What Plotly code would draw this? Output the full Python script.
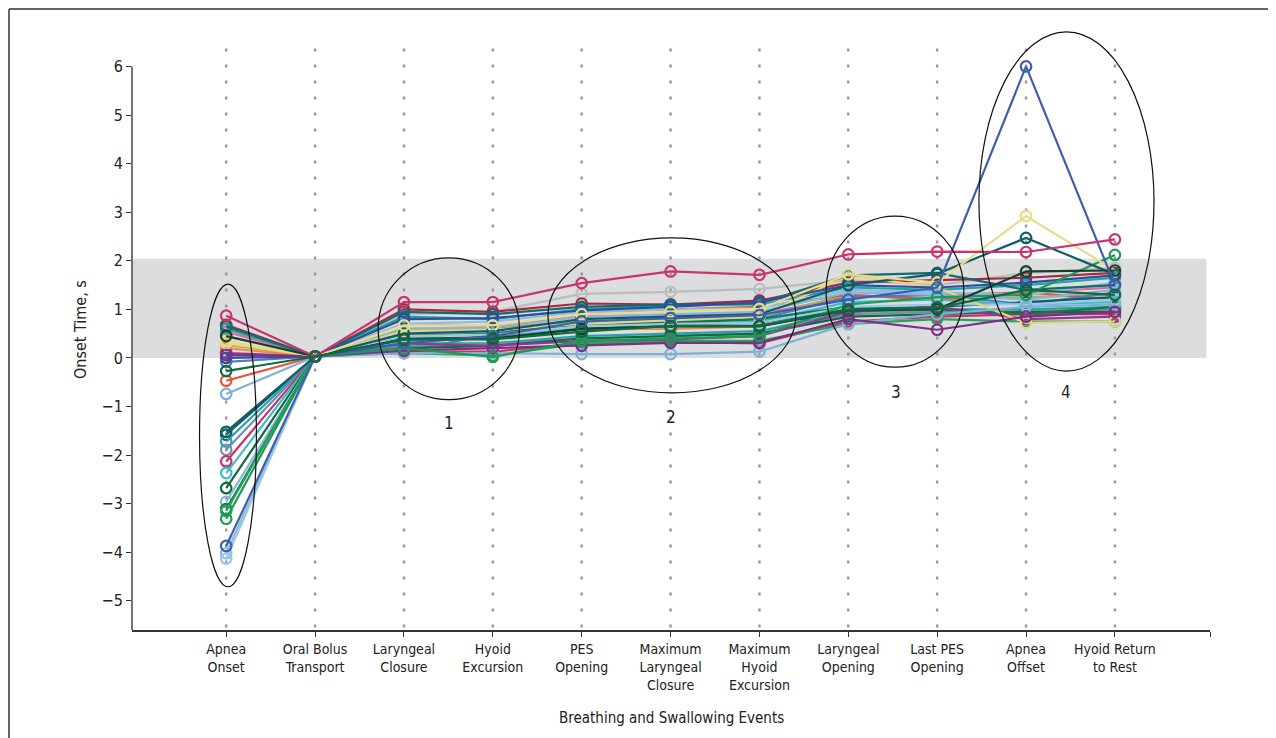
import plotly.graph_objects as go

events = ["Apnea<br>Onset", "Oral Bolus<br>Transport", "Laryngeal<br>Closure", "Hyoid<br>Excursion",
          "PES<br>Opening", "Maximum<br>Laryngeal<br>Closure", "Maximum<br>Hyoid<br>Excursion",
          "Laryngeal<br>Opening", "Last PES<br>Opening", "Apnea<br>Offset", "Hyoid Return<br>to Rest"]

# onset times (s) per participant across the 11 events
s01 = [0.87, 0.03, 1.15, 1.15, 1.54, 1.78, 1.71, 2.13, 2.19, 2.18, 2.44]
s02 = [0.45, 0.03, 0.90, 0.95, 1.32, 1.36, 1.42, 1.60, 1.50, 1.75, 1.85]
s03 = [-3.87, 0.03, 0.30, 0.45, 0.75, 0.82, 0.88, 1.20, 1.45, 6.00, 1.50]
s04 = [0.35, 0.03, 0.67, 0.67, 0.90, 0.95, 1.01, 1.72, 1.55, 2.92, 1.80]
s05 = [-1.52, 0.03, 0.50, 0.55, 0.80, 0.85, 0.90, 1.50, 1.73, 2.47, 1.72]
s06 = [-3.31, 0.03, 0.20, 0.02, 0.35, 0.40, 0.45, 1.10, 1.25, 1.30, 2.12]
s07 = [-0.27, 0.03, 0.38, 0.38, 0.54, 0.66, 0.66, 0.99, 1.03, 1.40, 1.30]
s08 = [0.06, 0.03, 0.15, 0.20, 0.25, 0.31, 0.31, 0.80, 0.58, 0.85, 0.95]
s09 = [-0.74, 0.03, 0.10, 0.10, 0.08, 0.08, 0.13, 0.70, 0.90, 1.05, 1.10]
s10 = [-0.47, 0.03, 0.55, 0.60, 0.90, 1.00, 1.05, 1.30, 1.20, 1.35, 1.20]
s11 = [0.60, 0.03, 0.85, 0.80, 1.00, 1.08, 1.10, 1.45, 1.40, 1.50, 1.65]
s12 = [0.68, 0.03, 1.00, 0.95, 1.12, 1.10, 1.18, 1.55, 1.60, 1.65, 1.75]
s13 = [-0.08, 0.03, 0.12, 0.50, 0.70, 0.75, 0.80, 1.25, 1.30, 1.10, 1.35]
s14 = [-1.58, 0.03, 0.40, 0.42, 0.60, 0.70, 0.72, 1.00, 1.05, 1.15, 1.25]
s15 = [-1.72, 0.03, 0.30, 0.30, 0.45, 0.50, 0.55, 0.95, 1.00, 1.00, 1.05]
s16 = [-1.89, 0.03, 0.25, 0.28, 0.40, 0.45, 0.50, 0.90, 0.95, 0.95, 1.00]
s17 = [-2.13, 0.03, 0.13, 0.13, 0.30, 0.33, 0.30, 0.75, 0.85, 0.90, 0.90]
s18 = [-2.37, 0.03, 0.35, 0.40, 0.65, 0.70, 0.75, 1.15, 1.20, 1.10, 1.15]
s19 = [-2.68, 0.03, 0.20, 0.25, 0.40, 0.45, 0.50, 0.85, 0.90, 0.95, 0.95]
s20 = [-2.96, 0.03, 0.60, 0.62, 0.85, 0.90, 0.95, 1.35, 1.30, 1.20, 1.40]
s21 = [-3.11, 0.03, 0.45, 0.50, 0.70, 0.72, 0.80, 1.05, 1.00, 0.90, 1.05]
s22 = [-3.15, 0.03, 0.10, 0.05, 0.30, 0.35, 0.35, 0.70, 0.80, 0.75, 0.75]
s23 = [-4.02, 0.03, 0.70, 0.75, 0.95, 1.00, 1.02, 1.40, 1.35, 1.30, 1.55]
s24 = [-4.13, 0.03, 0.45, 0.48, 0.65, 0.70, 0.72, 1.05, 1.10, 1.10, 1.20]
s25 = [0.54, 0.03, 0.70, 0.65, 0.85, 0.88, 0.90, 1.25, 1.30, 1.35, 1.45]
s26 = [0.27, 0.03, 0.60, 0.62, 0.75, 0.80, 0.85, 1.30, 1.20, 1.25, 1.30]
s27 = [0.20, 0.03, 0.50, 0.45, 0.60, 0.60, 0.65, 1.00, 0.95, 1.00, 1.00]
s28 = [0.10, 0.03, 0.30, 0.25, 0.35, 0.38, 0.45, 0.95, 1.05, 0.80, 0.85]
s29 = [0.30, 0.03, 0.55, 0.58, 0.70, 0.78, 0.85, 1.70, 1.45, 0.72, 0.75]
s30 = [0.45, 0.03, 0.38, 0.40, 0.60, 0.65, 0.65, 0.98, 1.00, 1.78, 1.80]
s31 = [0.65, 0.03, 0.95, 0.90, 1.05, 1.10, 1.12, 1.70, 1.75, 1.40, 1.50]
s32 = [0.00, 0.03, 0.80, 0.82, 0.98, 1.05, 1.15, 1.50, 1.45, 1.55, 1.70]

series = [s02, s12, s25, s26, s27, s10, s11, s13, s14, s15, s16, s17, s18, s19, s20, s21,
          s22, s23, s24, s28, s29, s31, s32, s09, s08, s06, s05, s04, s30, s03, s01, s07]
colors = ["#bdbdbd", "#a8283f", "#e06a9c", "#a9ad55", "#ef8a4a", "#e4573a", "#22a3a3", "#4f7cc2",
          "#0f5f68", "#2aa0a8", "#6f8fae", "#c8336c", "#40bcc8", "#0e6b3c", "#86b6dc", "#127a45",
          "#27a35a", "#8cbde0", "#9cc6e6", "#8e3b8f", "#e4d67c", "#136a70", "#2f4f9e", "#7fb0d8",
          "#7d2f85", "#1f9a55", "#0f5e66", "#e8dc8a", "#17402c", "#3d5fae", "#c8356e", "#0d6b3c"]

FONT = "Liberation Sans Narrow, DejaVu Sans Condensed, Arial Narrow, sans-serif"
xs = list(range(len(events)))
XR = [-1.06, 11.07]
YR = [-5.6, 6.75]

fig = go.Figure()
for vals, c in zip(series, colors):
    fig.add_trace(go.Scatter(x=xs, y=vals, mode="lines+markers",
                             line=dict(color=c, width=2.2),
                             marker=dict(symbol="circle-open", size=10.5, color=c,
                                         line=dict(width=2.2, color=c)),
                             showlegend=False, hoverinfo="skip"))

shapes = []
# normal range band
shapes.append(dict(type="rect", xref="x", yref="y", x0=XR[0], x1=11.03, y0=0, y1=2.04,
                   fillcolor="#dcdddf", line=dict(width=0), layer="below"))
# dotted event guides
for x in xs:
    shapes.append(dict(type="line", xref="x", yref="y", x0=x, x1=x, y0=-5.55, y1=6.45,
                       line=dict(color="#9a9a9a", width=2.5, dash="3px,13px"), layer="below"))
# y-axis line
shapes.append(dict(type="line", xref="paper", yref="y", x0=0, x1=0, y0=YR[0], y1=6,
                   line=dict(color="#444444", width=1.5)))
# ellipses
for (x0, x1, y0, y1) in [(-0.30, 0.34, -4.71, 1.52), (1.71, 3.30, -0.86, 2.06),
                         (3.62, 6.41, -0.72, 2.47), (6.75, 8.30, -0.19, 2.92),
                         (8.47, 10.44, -0.27, 6.71)]:
    shapes.append(dict(type="circle", xref="x", yref="y", x0=x0, x1=x1, y0=y0, y1=y1,
                       line=dict(color="#111111", width=1.2)))

# page body has an 8px default margin; compensate
OFF = 8
L, R, T, B = 132 - OFF, 66, 30 - OFF, 108
W, H = 1276 - OFF, 738 - OFF
pw, ph = W - L - R, H - T - B
fx = (9 - OFF - L) / pw
fy = (H - B - (9 - OFF)) / ph
shapes.append(dict(type="line", xref="paper", yref="paper", x0=fx, x1=fx, y0=fy, y1=-B / ph - 0.02,
                   line=dict(color="#333333", width=1.5)))
shapes.append(dict(type="line", xref="paper", yref="paper", x0=fx, x1=(W - L) / pw + 0.02, y0=fy, y1=fy,
                   line=dict(color="#333333", width=1.5)))

annotations = [
    dict(x=2.51, y=-1.34, xref="x", yref="y", text="1", showarrow=False, font=dict(size=17, color="#222")),
    dict(x=5.0, y=-1.21, xref="x", yref="y", text="2", showarrow=False, font=dict(size=17, color="#222")),
    dict(x=7.54, y=-0.70, xref="x", yref="y", text="3", showarrow=False, font=dict(size=17, color="#222")),
    dict(x=9.45, y=-0.70, xref="x", yref="y", text="4", showarrow=False, font=dict(size=17, color="#222")),
    dict(x=(80 - 132) / pw, y=0.5, xref="paper", yref="paper", text="Onset Time, s", textangle=-90,
         xanchor="center", yanchor="middle", showarrow=False, font=dict(size=16, color="#222")),
    dict(x=0.5, y=-(718 - 630) / ph, xref="paper", yref="paper", text="Breathing and Swallowing Events",
         xanchor="center", yanchor="middle", showarrow=False, font=dict(size=15, color="#222")),
]

fig.update_layout(
    width=W, height=H, margin=dict(l=L, r=R, t=T, b=B, pad=0),
    paper_bgcolor="white", plot_bgcolor="white",
    font=dict(family=FONT, size=14, color="#222222"),
    shapes=shapes, annotations=annotations,
    xaxis=dict(range=XR, tickmode="array", tickvals=xs + [XR[1]], ticktext=events + [""],
               showgrid=False, zeroline=False, showline=True, linecolor="#333333", linewidth=1.5,
               ticks="outside", ticklen=5, tickcolor="#333333", tickfont=dict(size=14)),
    yaxis=dict(range=YR, tickmode="array", tickvals=list(range(-5, 7)),
               showgrid=False, zeroline=False, showline=False,
               ticks="outside", ticklen=5, tickcolor="#333333", tickfont=dict(size=16)),
)

fig.write_html("out.html")
